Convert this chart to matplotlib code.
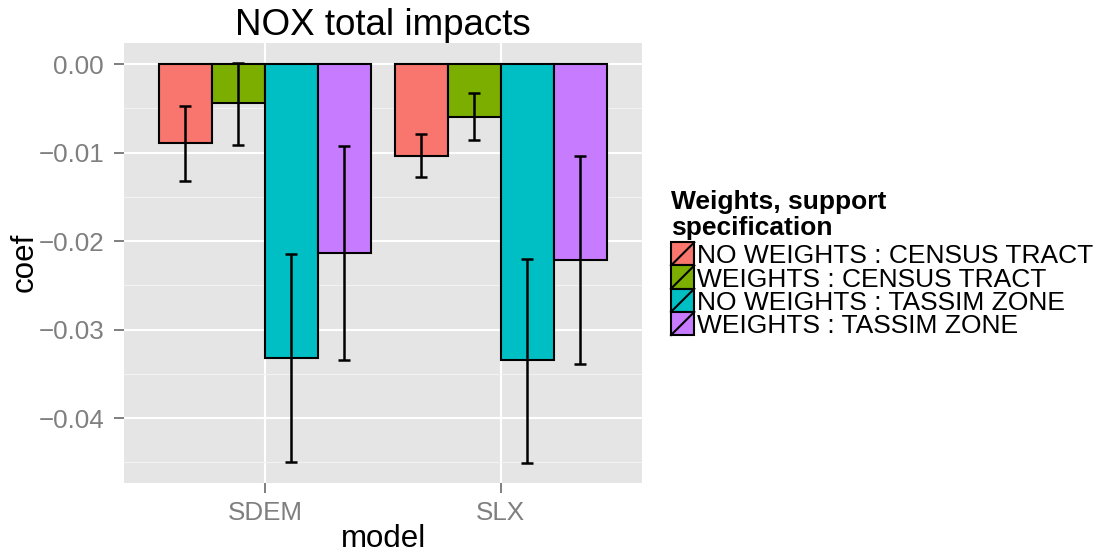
import matplotlib
matplotlib.use("Agg")
import matplotlib.pyplot as plt
from matplotlib.patches import Rectangle
from matplotlib.lines import Line2D
import numpy as np

plt.rcParams['font.family'] = ['Liberation Sans', 'DejaVu Sans']

# data
models = ["SDEM", "SLX"]
specs = ["NO WEIGHTS : CENSUS TRACT", "WEIGHTS : CENSUS TRACT",
         "NO WEIGHTS : TASSIM ZONE", "WEIGHTS : TASSIM ZONE"]
colors = ["#F8766D", "#7CAE00", "#00BFC4", "#C77CFF"]

# coef per spec, one value per model
coef = {
    specs[0]: [-0.00894, -0.01034],
    specs[1]: [-0.00441, -0.00593],
    specs[2]: [-0.03315, -0.03345],
    specs[3]: [-0.02133, -0.02214],
}
ci_low = {
    specs[0]: [-0.01317, -0.01271],
    specs[1]: [-0.00917, -0.00853],
    specs[2]: [-0.04500, -0.04502],
    specs[3]: [-0.03340, -0.03387],
}
ci_high = {
    specs[0]: [-0.00472, -0.00792],
    specs[1]: [0.00010, -0.00328],
    specs[2]: [-0.02144, -0.02196],
    specs[3]: [-0.00924, -0.01041],
}

W, H = 1104, 554
fig = plt.figure(figsize=(W / 100, H / 100), dpi=100)
left, right, top, bottom = 123.5, 642, 43.4, 482.5
ax = fig.add_axes([left / W, 1 - bottom / H, (right - left) / W, (bottom - top) / H])
ax.set_facecolor("#E5E5E5")
for s in ax.spines.values():
    s.set_visible(False)

xpos = np.arange(1, len(models) + 1)
bw = 0.9 / len(specs)
for i, sp in enumerate(specs):
    x = xpos + (i - (len(specs) - 1) / 2) * bw
    vals = np.array(coef[sp])
    lo = np.array(ci_low[sp])
    hi = np.array(ci_high[sp])
    ax.bar(x, vals, width=bw, color=colors[i], edgecolor="black",
           linewidth=1.5, zorder=3)
    ax.errorbar(x, vals, yerr=[vals - lo, hi - vals], fmt="none",
                ecolor="black", elinewidth=1.8, capsize=4, capthick=1.8,
                zorder=4)

# ggplot-like expansion
allv = np.concatenate([np.array(v) for d in (coef, ci_low, ci_high) for v in d.values()] + [[0]])
vmin, vmax = allv.min(), allv.max()
pad = 0.05 * (vmax - vmin)
ax.set_ylim(vmin - pad, vmax + pad)
ax.set_xlim(0.4, len(models) + 0.6)

yt = [0.0, -0.01, -0.02, -0.03, -0.04]
ax.set_yticks(yt)
ax.set_yticklabels(["0.00" if v == 0 else "\u2212%.2f" % abs(v) for v in yt])
ax.set_yticks([-0.005, -0.015, -0.025, -0.035, -0.045], minor=True)
ax.set_xticks(xpos)
ax.set_xticklabels(models)

ax.grid(which="major", color="white", linewidth=1.5, zorder=0)
ax.grid(which="minor", axis="y", color="#F2F2F2", linewidth=0.8, zorder=0)
ax.set_axisbelow(True)
ax.tick_params(which="major", color="#7F7F7F", length=7, width=1.4,
               labelcolor="#7F7F7F", labelsize=18.7)
ax.tick_params(axis="y", pad=7)
ax.tick_params(axis="x", pad=6)
ax.tick_params(which="minor", length=0)

ax.set_title("NOX total impacts", fontsize=26.5, pad=4.8)
fig.text(383.5 / W, 1 - 547 / H, "model", fontsize=22.5, ha="center", va="baseline")
fig.text(33 / W, 1 - 262.8 / H, "coef", fontsize=22.5, rotation=90,
         rotation_mode="anchor", ha="center", va="baseline")

# legend
fig.text(671 / W, 1 - 208.5 / H, "Weights, support", fontsize=19,
         fontweight="bold", va="baseline")
fig.text(671 / W, 1 - 235 / H, "specification", fontsize=19,
         fontweight="bold", va="baseline")
kx, ky, kw, kh = 671, 242.3, 23.3, 23.2
for i, sp in enumerate(specs):
    y0 = ky + i * kh
    fig.add_artist(Rectangle((kx / W, 1 - (y0 + kh) / H), kw / W, kh / H,
                             transform=fig.transFigure, facecolor=colors[i],
                             edgecolor="black", linewidth=1.5))
    fig.add_artist(Line2D([kx / W, (kx + kw) / W], [1 - (y0 + kh) / H, 1 - y0 / H],
                          transform=fig.transFigure, color="black", linewidth=1.5))
    fig.text(697.3 / W, 1 - (y0 + kh / 2) / H, sp, fontsize=19, va="center_baseline")

fig.savefig("out.png", dpi=100)
